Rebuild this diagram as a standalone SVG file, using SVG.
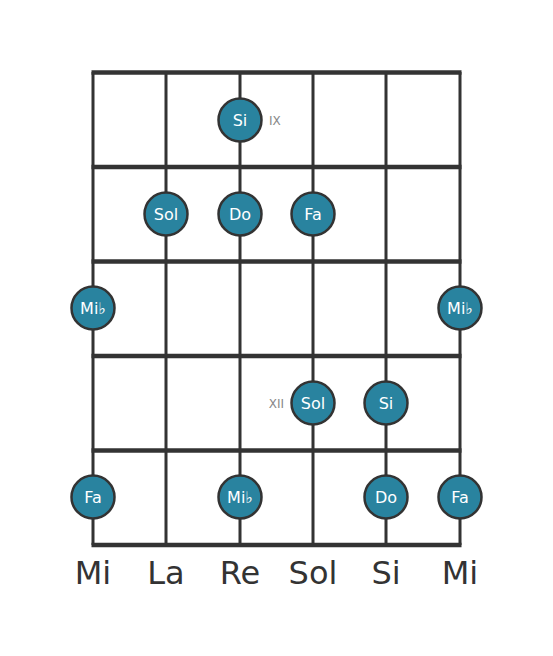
<svg xmlns="http://www.w3.org/2000/svg" width="553" height="656" viewBox="0 0 553 656">
<style>
.fret{stroke:#333;stroke-width:4.5;}
.str{stroke:#333;stroke-width:3;}
.note circle{fill:#29839f;stroke:#333;stroke-width:2.5;}
.note text{fill:#fff;font-family:"DejaVu Sans",sans-serif;font-size:16px;text-anchor:middle;dominant-baseline:central;}
.fn{fill:#888;font-family:"DejaVu Sans",sans-serif;font-size:12px;dominant-baseline:central;}
.sn{fill:#333;font-family:"DejaVu Sans",sans-serif;font-size:32px;text-anchor:middle;}
</style>
<rect width="553" height="656" fill="#fff"/>
<g id="connectors">
<line class="str" x1="93" y1="72" x2="93" y2="545"/>
<line class="str" x1="166" y1="72" x2="166" y2="545"/>
<line class="str" x1="240" y1="72" x2="240" y2="545"/>
<line class="str" x1="313" y1="72" x2="313" y2="545"/>
<line class="str" x1="386" y1="72" x2="386" y2="545"/>
<line class="str" x1="460" y1="72" x2="460" y2="545"/>
<line class="fret" x1="91.5" y1="72.5" x2="461.5" y2="72.5"/>
<line class="fret" x1="91.5" y1="167" x2="461.5" y2="167"/>
<line class="fret" x1="91.5" y1="261.5" x2="461.5" y2="261.5"/>
<line class="fret" x1="91.5" y1="356" x2="461.5" y2="356"/>
<line class="fret" x1="91.5" y1="450.5" x2="461.5" y2="450.5"/>
<line class="fret" x1="91.5" y1="545" x2="461.5" y2="545"/>
</g>
<g id="n1" class="note"><circle cx="240" cy="120" r="21.5"/><text x="240" y="120">Si</text></g>
<g id="n2" class="note"><circle cx="166" cy="214" r="21.5"/><text x="166" y="214">Sol</text></g>
<g id="n3" class="note"><circle cx="240" cy="214" r="21.5"/><text x="240" y="214">Do</text></g>
<g id="n4" class="note"><circle cx="313" cy="214" r="21.5"/><text x="313" y="214">Fa</text></g>
<g id="n5" class="note"><circle cx="93" cy="308" r="21.5"/><text x="93" y="308">Mi♭</text></g>
<g id="n6" class="note"><circle cx="460" cy="308" r="21.5"/><text x="460" y="308">Mi♭</text></g>
<g id="n7" class="note"><circle cx="313" cy="403" r="21.5"/><text x="313" y="403">Sol</text></g>
<g id="n8" class="note"><circle cx="386" cy="403" r="21.5"/><text x="386" y="403">Si</text></g>
<g id="n9" class="note"><circle cx="93" cy="497" r="21.5"/><text x="93" y="497">Fa</text></g>
<g id="n10" class="note"><circle cx="240" cy="497" r="21.5"/><text x="240" y="497">Mi♭</text></g>
<g id="n11" class="note"><circle cx="386" cy="497" r="21.5"/><text x="386" y="497">Do</text></g>
<g id="n12" class="note"><circle cx="460" cy="497" r="21.5"/><text x="460" y="497">Fa</text></g>
<g id="fretnums">
<text class="fn" x="269" y="121">IX</text>
<text class="fn" x="284" y="404" text-anchor="end">XII</text>
</g>
<g id="strings">
<text class="sn" x="93" y="584">Mi</text>
<text class="sn" x="166" y="584">La</text>
<text class="sn" x="240" y="584">Re</text>
<text class="sn" x="313" y="584">Sol</text>
<text class="sn" x="386" y="584">Si</text>
<text class="sn" x="460" y="584">Mi</text>
</g>
</svg>
